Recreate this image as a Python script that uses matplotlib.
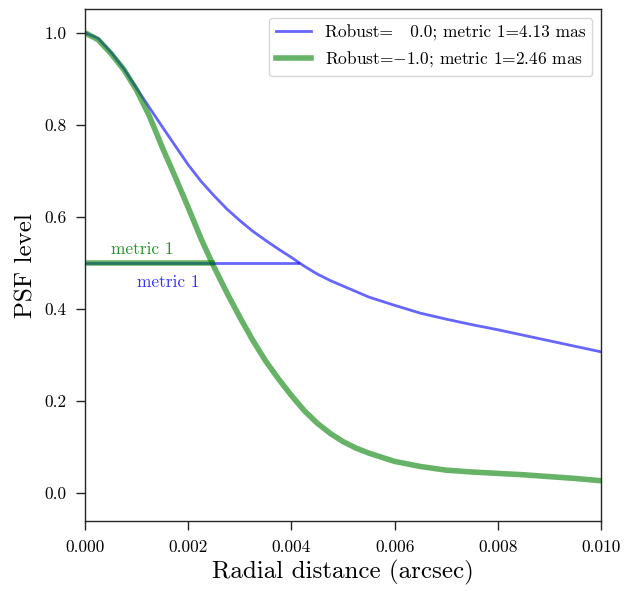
import numpy as np
import matplotlib
matplotlib.use("Agg")
import matplotlib.pyplot as plt

plt.rcParams["font.family"] = "serif"
plt.rcParams["font.serif"] = ["cmr10"]
plt.rcParams["mathtext.fontset"] = "cm"
plt.rcParams["axes.formatter.use_mathtext"] = True
plt.rcParams["axes.unicode_minus"] = False

# Radial profile samples (arcsec) and PSF levels for the two weightings
radius = [0.00000, 0.00025, 0.00050, 0.00075, 0.00100, 0.00125, 0.00150,
          0.00175, 0.00200, 0.00225, 0.00250, 0.00275, 0.00300, 0.00325,
          0.00350, 0.00375, 0.00400, 0.00425, 0.00450, 0.00475, 0.00500,
          0.00525, 0.00550, 0.00600, 0.00650, 0.00700, 0.00750, 0.00800,
          0.00850, 0.00900, 0.00950, 0.01000]
psf_robust0 = [1.000, 0.988, 0.958, 0.922, 0.879, 0.837, 0.795,
               0.754, 0.713, 0.677, 0.646, 0.617, 0.592, 0.569,
               0.549, 0.530, 0.512, 0.493, 0.476, 0.462, 0.450,
               0.438, 0.426, 0.408, 0.391, 0.378, 0.366, 0.355,
               0.343, 0.331, 0.319, 0.307]
psf_robustm1 = [1.000, 0.985, 0.955, 0.920, 0.875, 0.818, 0.750,
                0.686, 0.620, 0.552, 0.491, 0.435, 0.382, 0.332,
                0.287, 0.248, 0.212, 0.179, 0.152, 0.130, 0.112,
                0.098, 0.087, 0.069, 0.058, 0.050, 0.046, 0.043,
                0.040, 0.036, 0.032, 0.027]

# Half-maximum radius (mas) for each weighting
metric_robust0 = 4.13
metric_robustm1 = 2.46
half_level = 0.5

fig = plt.figure(figsize=(6.26, 5.91), dpi=100)
ax = fig.add_axes([0.136, 0.118, 0.824, 0.867])

ax.plot(radius, psf_robust0, color="b", alpha=0.6, lw=2,
        label=r"Robust=   0.0; metric 1=%.2f mas" % metric_robust0)
ax.plot(radius, psf_robustm1, color="g", alpha=0.6, lw=4,
        label=r"Robust=$-$1.0; metric 1=%.2f mas" % metric_robustm1)

ax.plot([0, metric_robust0 * 1e-3], [half_level, half_level],
        color="b", alpha=0.6, lw=2)
ax.plot([0, metric_robustm1 * 1e-3], [half_level, half_level],
        color="g", alpha=0.6, lw=4)

ax.text(0.0005, 0.52, "metric 1", color="g", alpha=0.85, fontsize=12.5)
ax.text(0.0010, 0.447, "metric 1", color="b", alpha=0.8, fontsize=12.5)

ax.set_xlim(0, 0.010)
ax.set_ylim(-0.061, 1.052)
ax.set_xticks([0.000, 0.002, 0.004, 0.006, 0.008, 0.010])
ax.set_xticklabels(["0.000", "0.002", "0.004", "0.006", "0.008", "0.010"])
ax.set_yticks([0.0, 0.2, 0.4, 0.6, 0.8, 1.0])
ax.set_yticklabels(["0.0", "0.2", "0.4", "0.6", "0.8", "1.0"])

ax.tick_params(direction="out", length=6.5, width=1, labelsize=12.5,
               pad=7, color="0.15", top=False, right=False)
for s in ax.spines.values():
    s.set_color("0.15")
    s.set_linewidth(1)

ax.set_xlabel("Radial distance (arcsec)", fontsize=18, labelpad=3)
ax.set_ylabel("PSF level", fontsize=18, labelpad=5)

ax.legend(loc="upper right", fontsize=12.5)

fig.savefig("out.png", dpi=100)
